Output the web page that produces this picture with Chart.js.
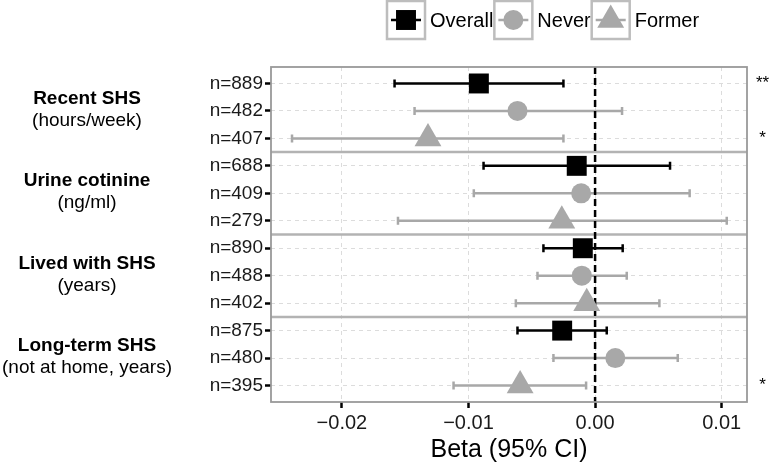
<!DOCTYPE html>
<html>
<head>
<meta charset="utf-8">
<script src="https://cdn.jsdelivr.net/npm/chart.js@4/dist/chart.umd.min.js"></script>
<style>
html,body{margin:0;padding:0;background:#fff;}
#wrap{width:771px;height:465px;position:relative;}
</style>
</head>
<body>
<div id="wrap"><canvas id="c" width="771" height="465"></canvas></div>
<script>
// ---- data ----
const groupNames = ['Recent SHS', 'Urine cotinine', 'Lived with SHS', 'Long-term SHS'];
const groupUnits = ['(hours/week)', '(ng/ml)', '(years)', '(not at home, years)'];
const seriesNames = ['Overall', 'Never', 'Former'];
const nLabels = ['n=889','n=482','n=407','n=688','n=409','n=279','n=890','n=488','n=402','n=875','n=480','n=395'];
const xTicks = [-0.02, -0.01, 0.00, 0.01];

const overallBeta = [-0.00918, -0.00145, -0.00097, -0.00260];
const overallLo   = [-0.01584, -0.00881, -0.00408, -0.00613];
const overallHi   = [-0.00250,  0.00592,  0.00218,  0.00092];
const overallSig  = ['**', '', '', ''];

const neverBeta = [-0.00613, -0.00110, -0.00105,  0.00160];
const neverLo   = [-0.01426, -0.00958, -0.00455, -0.00329];
const neverHi   = [ 0.00213,  0.00747,  0.00250,  0.00653];
const neverSig  = ['', '', '', ''];

const formerBeta = [-0.01320, -0.00263, -0.00066, -0.00592];
const formerLo   = [-0.02394, -0.01557, -0.00626, -0.01118];
const formerHi   = [-0.00250,  0.01040,  0.00508, -0.00071];
const formerSig  = ['*', '', '', '*'];

// ---- styling ----
const FONT = '"Liberation Sans", Arial, Helvetica, sans-serif';
const GREY = '#a8a8a8';
const seriesStyle = [
  {color: '#000000', pointStyle: 'rect', radius: 14.1},
  {color: GREY, pointStyle: 'circle', radius: 10},
  {color: GREY, pointStyle: 'triangle', radius: 15.5}
];
const seriesBeta = [overallBeta, neverBeta, formerBeta];
const seriesLo = [overallLo, neverLo, formerLo];
const seriesHi = [overallHi, neverHi, formerHi];
const seriesSig = [overallSig, neverSig, formerSig];
const nSeries = seriesNames.length;
const rowOf = (g, s) => g * nSeries + s + 1;

const datasets = seriesNames.map((name, s) => ({
  label: name,
  data: seriesBeta[s].map((v, g) => ({x: v, y: rowOf(g, s)})),
  pointStyle: seriesStyle[s].pointStyle,
  pointRadius: seriesStyle[s].radius,
  backgroundColor: seriesStyle[s].color,
  borderColor: seriesStyle[s].color,
  borderWidth: 0,
  showLine: false
}));

function drawShape(ctx, st, x, y) {
  const r = st.radius;
  if (st.pointStyle === 'rect') {
    const h = r * Math.SQRT1_2;
    ctx.rect(x - h, y - h, 2 * h, 2 * h);
  } else if (st.pointStyle === 'circle') {
    ctx.arc(x, y, r, 0, Math.PI * 2);
  } else {
    ctx.moveTo(x, y - r);
    ctx.lineTo(x + r * Math.sin(2 * Math.PI / 3), y + r / 2);
    ctx.lineTo(x - r * Math.sin(2 * Math.PI / 3), y + r / 2);
    ctx.closePath();
  }
}

const forestPlugin = {
  id: 'forest',
  beforeDatasetsDraw(chart) {
    const {ctx, chartArea: a, scales: {x, y}} = chart;
    ctx.save();
    // group separators
    ctx.strokeStyle = '#b3b3b3';
    ctx.lineWidth = 2.5;
    for (let g = 1; g < groupNames.length; g++) {
      const py = y.getPixelForValue(g * nSeries + 0.5);
      ctx.beginPath(); ctx.moveTo(a.left, py); ctx.lineTo(a.right, py); ctx.stroke();
    }
    // error bars
    for (let s = 0; s < nSeries; s++) {
      ctx.strokeStyle = seriesStyle[s].color;
      ctx.lineWidth = 2.5;
      seriesBeta[s].forEach((v, g) => {
        const py = y.getPixelForValue(rowOf(g, s));
        const x0 = x.getPixelForValue(seriesLo[s][g]);
        const x1 = x.getPixelForValue(seriesHi[s][g]);
        ctx.beginPath();
        ctx.moveTo(x0, py); ctx.lineTo(x1, py);
        ctx.moveTo(x0, py - 4); ctx.lineTo(x0, py + 4);
        ctx.moveTo(x1, py - 4); ctx.lineTo(x1, py + 4);
        ctx.stroke();
      });
    }
    // zero line
    const zx = x.getPixelForValue(0);
    ctx.strokeStyle = '#000';
    ctx.lineWidth = 2.5;
    ctx.setLineDash([7, 4]);
    ctx.beginPath(); ctx.moveTo(zx, a.top); ctx.lineTo(zx, a.bottom); ctx.stroke();
    ctx.restore();
  },
  afterDatasetsDraw(chart) {
    const {ctx, chartArea: a} = chart;
    ctx.save();
    ctx.strokeStyle = '#999';
    ctx.lineWidth = 1.8;
    ctx.strokeRect(a.left, a.top, a.right - a.left, a.bottom - a.top);
    ctx.restore();
  },
  afterDraw(chart) {
    const {ctx, scales: {y}} = chart;
    ctx.save();
    // group labels
    ctx.fillStyle = '#000';
    ctx.textAlign = 'center';
    ctx.textBaseline = 'alphabetic';
    groupNames.forEach((name, g) => {
      const cy = y.getPixelForValue(rowOf(g, 1));
      ctx.font = 'bold 19px ' + FONT;
      ctx.fillText(name, 87, cy - 7);
      ctx.font = '19px ' + FONT;
      ctx.fillText(groupUnits[g], 87, cy + 15);
    });
    // significance marks
    ctx.font = '17px ' + FONT;
    ctx.textBaseline = 'middle';
    for (let s = 0; s < nSeries; s++) {
      seriesSig[s].forEach((txt, g) => {
        if (txt) ctx.fillText(txt, 762.5, y.getPixelForValue(rowOf(g, s)));
      });
    }
    // legend
    ctx.font = '20px ' + FONT;
    ctx.textAlign = 'left';
    let lx = 387;
    const top = 1, size = 38, cy = top + size / 2;
    seriesNames.forEach((name, s) => {
      ctx.strokeStyle = '#bdbdbd';
      ctx.lineWidth = 2.5;
      ctx.strokeRect(lx, top, size, size);
      ctx.strokeStyle = seriesStyle[s].color;
      ctx.lineWidth = 2.5;
      ctx.beginPath(); ctx.moveTo(lx + 4, cy); ctx.lineTo(lx + size - 4, cy); ctx.stroke();
      ctx.fillStyle = seriesStyle[s].color;
      ctx.beginPath();
      drawShape(ctx, seriesStyle[s], lx + size / 2, cy);
      ctx.fill();
      ctx.fillStyle = '#000';
      ctx.fillText(name, lx + size + 5, cy + 1);
      lx = lx + size + 5 + ctx.measureText(name).width + 1;
    });
    ctx.restore();
  }
};

new Chart(document.getElementById('c'), {
  type: 'scatter',
  data: {datasets},
  plugins: [forestPlugin],
  options: {
    responsive: false,
    animation: false,
    events: [],
    layout: {padding: {top: 67, right: 24, left: 0, bottom: 0}},
    plugins: {legend: {display: false}, tooltip: {enabled: false}},
    scales: {
      x: {
        type: 'linear',
        min: -0.0256,
        max: 0.012,
        afterBuildTicks: (sc) => { sc.ticks = xTicks.map(v => ({value: v})); },
        afterFit: (sc) => { sc.height = 63; },
        grid: {color: '#dcdcdc', lineWidth: 1, tickColor: '#000', tickWidth: 2.5, tickLength: 6},
        border: {display: false, dash: [4, 4]},
        ticks: {
          padding: 3,
          color: '#1a1a1a',
          font: {family: FONT, size: 20},
          callback: (v) => Number(v).toFixed(2).replace('-', '\u2212')
        },
        title: {display: true, text: 'Beta (95% CI)', color: '#000', font: {family: FONT, size: 25, lineHeight: 1.2}, padding: {top: 0, bottom: 0}}
      },
      y: {
        type: 'linear',
        reverse: true,
        min: 0.4,
        max: 12.6,
        afterBuildTicks: (sc) => { sc.ticks = nLabels.map((_, i) => ({value: i + 1})); },
        afterFit: (sc) => { sc.width = 271; },
        grid: {color: '#dcdcdc', lineWidth: 1, tickColor: '#000', tickWidth: 2.5, tickLength: 6},
        border: {display: false, dash: [4, 4]},
        ticks: {
          autoSkip: false,
          padding: 2,
          color: '#1a1a1a',
          font: {family: FONT, size: 19},
          callback: (v) => nLabels[Math.round(v) - 1]
        }
      }
    }
  }
});
</script>
</body>
</html>
